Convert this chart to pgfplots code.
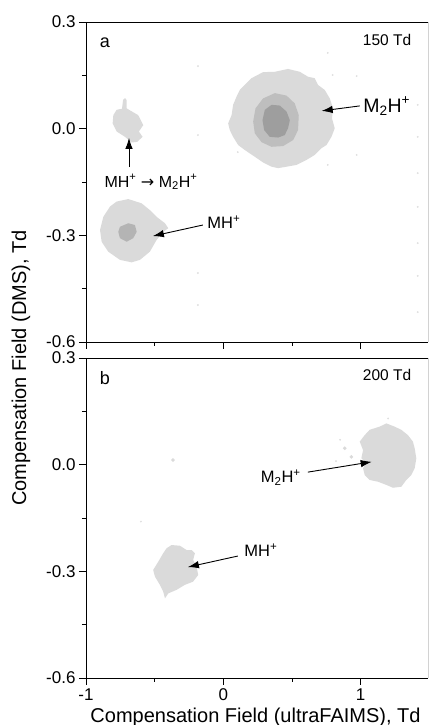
\documentclass[border=0pt]{standalone}
\usepackage{pgfplots}
\pgfplotsset{compat=1.18}
\usepackage{fontspec}
\setmainfont{Liberation Sans}
\newfontfamily\dejavu{DejaVu Sans}
\usetikzlibrary{arrows.meta}
\definecolor{lg}{RGB}{218,218,218}
\definecolor{mg}{RGB}{190,190,190}
\definecolor{dg}{RGB}{158,158,158}
\definecolor{ig}{RGB}{180,180,180}
\newcommand\fs[1]{\fontsize{#1}{#1}\selectfont}
\tikzset{arr/.style={line width=0.9pt, -{Latex[length=11pt,width=7.5pt]}}}
\pgfplotsset{
  panel/.style={
    anchor=north west, width=342pt, height=320pt, scale only axis,
    xmin=-1, xmax=1.49, ymin=-0.6, ymax=0.3,
    axis x line=box, axis y line=left,
    axis line style={black, line width=0.8pt, -},
    xtick pos=bottom, ytick pos=left, tick align=outside,
    xtick={-1,0,1}, ytick={-0.6,-0.3,0,0.3},
    yticklabels={-0.6,-0.3,0.0,0.3},
    minor x tick num=1, minor y tick num=1,
    major tick length=7pt, minor tick length=4pt,
    tick style={black, line width=0.8pt},
    ticklabel style={font=\fs{17}},
    /pgf/number format/assume math mode=true,
    clip=false,
  },
  blob/.style={fill=#1, draw=none, forget plot},
  speck/.style={only marks, mark=*, mark size=0.7pt, color=gray!25, forget plot},
}
\begin{document}
\begin{tikzpicture}[x=1pt,y=1pt]
% ---------------- panel a ----------------
\begin{axis}[panel, at={(86pt,-22pt)}, xticklabels={}]
\addplot[blob=lg] coordinates {
(0.156,0.123) (0.205,0.142) (0.289,0.159) (0.375,0.160) (0.471,0.168)
(0.556,0.160) (0.617,0.146) (0.665,0.142) (0.689,0.123) (0.738,0.109)
(0.775,0.085) (0.799,0.057) (0.791,0.029) (0.811,0.001) (0.787,-0.023)
(0.751,-0.046) (0.714,-0.055) (0.665,-0.074) (0.605,-0.088) (0.532,-0.102)
(0.460,-0.107) (0.399,-0.111) (0.351,-0.107) (0.289,-0.095) (0.229,-0.079)
(0.156,-0.060) (0.108,-0.046) (0.071,-0.023) (0.047,-0.004) (0.035,0.015)
(0.060,0.038) (0.071,0.067) (0.096,0.090) (0.120,0.109) (0.156,0.123)};
\addplot[blob=mg] coordinates {
(0.375,0.100) (0.460,0.093) (0.520,0.071) (0.549,0.038) (0.544,-0.004)
(0.508,-0.032) (0.435,-0.049) (0.351,-0.051) (0.278,-0.038) (0.229,-0.013)
(0.217,0.020) (0.234,0.057) (0.289,0.085) (0.375,0.100)};
\addplot[blob=dg] coordinates {
(0.351,0.067) (0.411,0.065) (0.460,0.048) (0.484,0.024) (0.471,0.001)
(0.447,-0.018) (0.399,-0.025) (0.338,-0.023) (0.297,-0.004) (0.285,0.024)
(0.302,0.053) (0.351,0.067)};
\addplot[blob=lg] coordinates {
(-0.777,0.053) (-0.738,0.056) (-0.730,0.081) (-0.716,0.086) (-0.705,0.081)
(-0.704,0.057) (-0.620,0.038) (-0.583,0.010) (-0.615,-0.008) (-0.588,-0.023)
(-0.627,-0.037) (-0.668,-0.039) (-0.716,-0.023) (-0.777,-0.008) (-0.806,0.015)
(-0.801,0.038) (-0.777,0.053)};
\addplot[blob=lg] coordinates {
(-0.777,-0.205) (-0.692,-0.198) (-0.595,-0.210) (-0.535,-0.229) (-0.486,-0.248)
(-0.425,-0.266) (-0.401,-0.280) (-0.438,-0.290) (-0.486,-0.313) (-0.535,-0.346)
(-0.607,-0.369) (-0.668,-0.376) (-0.753,-0.369) (-0.838,-0.346) (-0.886,-0.318)
(-0.898,-0.285) (-0.874,-0.248) (-0.825,-0.219) (-0.777,-0.205)};
\addplot[blob=ig] coordinates {
(-0.753,-0.276) (-0.692,-0.266) (-0.644,-0.271) (-0.631,-0.290) (-0.656,-0.308)
(-0.704,-0.318) (-0.753,-0.308) (-0.765,-0.290) (-0.753,-0.276)};
\addplot[speck] coordinates {
(-0.185,0.176) (-0.185,-0.018) (-0.185,-0.406) (-0.185,-0.496)
(0.971,0.148) (0.971,-0.074) (1.415,0.067) (1.415,-0.023) (1.415,-0.125)
(1.415,-0.220) (1.415,-0.322) (1.415,-0.414) (1.415,-0.516)
(0.760,0.213) (0.760,-0.102) (0.796,0.151) (0.105,-0.066)};
\draw[gray!35, line width=0.8pt] (rel axis cs:1,0) -- (rel axis cs:1,1);
\node[font=\fs{18}] at (axis cs:-0.862,0.241) {a};
\node[font=\fs{15.5}, anchor=east] at (axis cs:1.393,0.249) {150 Td};
\draw[arr] (axis cs:0.993,0.064) -- (axis cs:0.716,0.050);
\node[font=\fs{19.5}, anchor=west, inner sep=1pt] at (axis cs:1.010,0.064) {M\textsubscript{2}H\textsuperscript{+}};
\draw[arr] (axis cs:-0.687,-0.108) -- (axis cs:-0.687,-0.026);
\node[font=\fs{16}] at (axis cs:-0.527,-0.150) {MH\textsuperscript{+} {\dejavu →} M\textsubscript{2}H\textsuperscript{+}};
\draw[arr] (axis cs:-0.149,-0.271) -- (axis cs:-0.513,-0.302);
\node[font=\fs{16.5}, anchor=west, inner sep=1pt] at (axis cs:-0.125,-0.262) {MH\textsuperscript{+}};
\end{axis}
% ---------------- panel b ----------------
\begin{axis}[panel, at={(86pt,-358pt)}, xticklabels={-1,0,1}]
\addplot[blob=lg] coordinates {
(1.065,0.098) (1.138,0.107) (1.187,0.116) (1.247,0.107) (1.296,0.098)
(1.344,0.083) (1.380,0.065) (1.393,0.046) (1.405,0.018) (1.393,-0.010)
(1.369,-0.029) (1.332,-0.043) (1.296,-0.062) (1.235,-0.065) (1.187,-0.057)
(1.126,-0.048) (1.065,-0.043) (1.029,-0.029) (1.017,-0.010) (1.041,0.004)
(1.005,0.018) (1.017,0.041) (0.993,0.065) (1.029,0.083) (1.065,0.098)};
\addplot[blob=lg] coordinates {
(-0.377,-0.226) (-0.316,-0.228) (-0.268,-0.240) (-0.231,-0.240) (-0.207,-0.249)
(-0.220,-0.268) (-0.195,-0.287) (-0.183,-0.310) (-0.220,-0.329) (-0.280,-0.338)
(-0.340,-0.352) (-0.401,-0.362) (-0.425,-0.376) (-0.438,-0.357) (-0.462,-0.338)
(-0.498,-0.315) (-0.511,-0.296) (-0.474,-0.273) (-0.438,-0.249) (-0.413,-0.235)
(-0.377,-0.226)};
\addplot[only marks, mark=*, mark size=1.6pt, color=lg, forget plot] coordinates {
(0.884,0.046) (0.932,0.022) (-0.367,0.013)};
\addplot[speck] coordinates {(0.82,0.010) (0.85,0.070) (1.20,0.130) (-0.60,-0.160)};
\draw[gray!35, line width=0.8pt] (rel axis cs:1,0) -- (rel axis cs:1,1);
\node[font=\fs{18}] at (axis cs:-0.862,0.244) {b};
\node[font=\fs{15.5}, anchor=east] at (axis cs:1.393,0.252) {200 Td};
\draw[arr] (axis cs:0.615,-0.021) -- (axis cs:1.080,0.008);
\node[font=\fs{16.5}] at (axis cs:0.418,-0.037) {M\textsubscript{2}H\textsuperscript{+}};
\draw[arr] (axis cs:0.105,-0.257) -- (axis cs:-0.258,-0.288);
\node[font=\fs{16.5}] at (axis cs:0.273,-0.240) {MH\textsuperscript{+}};
\end{axis}
% ---------------- shared labels ----------------
\node[font=\fs{20}, anchor=base] at (255.5pt,-722pt) {Compensation Field (ultraFAIMS), Td};
\node[font=\fs{20}, anchor=base, rotate=90] at (26pt,-368pt) {Compensation Field (DMS), Td};
\pgfresetboundingbox
\path[use as bounding box] (0pt,0pt) rectangle (429pt,-725pt);
\end{tikzpicture}
\end{document}
